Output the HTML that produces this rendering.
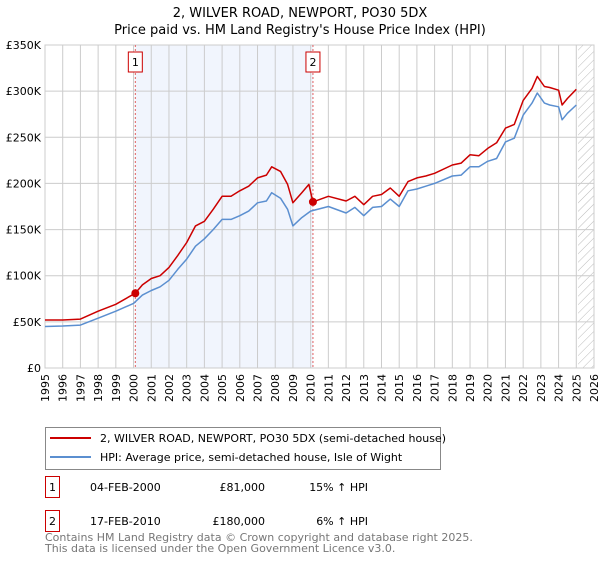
<!DOCTYPE html>
<html><head><meta charset="utf-8"><style>
body{margin:0;background:#fff;font-family:"Liberation Sans","DejaVu Sans",sans-serif;}
svg text{font-family:"DejaVu Sans","Liberation Sans",sans-serif;}
</style></head><body>
<svg id="c" width="600" height="560" xmlns="http://www.w3.org/2000/svg">
<defs><pattern id="hatch" width="6" height="6" patternUnits="userSpaceOnUse" patternTransform="rotate(45)"><line x1="0" y1="0" x2="0" y2="6" stroke="#bbb" stroke-width="1"/></pattern></defs>
<text x="300" y="17" text-anchor="middle" font-size="13">2, WILVER ROAD, NEWPORT, PO30 5DX</text>
<text x="300" y="34" text-anchor="middle" font-size="13">Price paid vs. HM Land Registry's House Price Index (HPI)</text>
<g id="plot"></g>
<g>
<rect x="45.5" y="427.5" width="395" height="42" fill="#fff" stroke="#888"/>
<line x1="50" y1="438" x2="91" y2="438" stroke="#cc0000" stroke-width="2"/>
<text x="100" y="442" font-size="11">2, WILVER ROAD, NEWPORT, PO30 5DX (semi-detached house)</text>
<line x1="50" y1="457" x2="91" y2="457" stroke="#5b8fd0" stroke-width="2"/>
<text x="100" y="461" font-size="11">HPI: Average price, semi-detached house, Isle of Wight</text>
</g>
<g font-size="11">
<rect x="45.5" y="476.5" width="14" height="21" fill="#fff" stroke="#cc0000"/><text x="52.5" y="491" text-anchor="middle">1</text>
<text x="90" y="491">04-FEB-2000</text><text x="265" y="491" text-anchor="end">£81,000</text><text x="368" y="491" text-anchor="end">15% ↑ HPI</text>
<rect x="45.5" y="510.5" width="14" height="21" fill="#fff" stroke="#cc0000"/><text x="52.5" y="525" text-anchor="middle">2</text>
<text x="90" y="525">17-FEB-2010</text><text x="265" y="525" text-anchor="end">£180,000</text><text x="368" y="525" text-anchor="end">6% ↑ HPI</text>
</g>
<text x="45" y="541" font-size="11" fill="#777">Contains HM Land Registry data © Crown copyright and database right 2025.</text>
<text x="45" y="552" font-size="11" fill="#777">This data is licensed under the Open Government Licence v3.0.</text>
</svg>
<script>
const priceYears=[1995,1996,1997,1998,1999,2000.1,2000.5,2001,2001.5,2002,2002.5,2003,2003.5,2004,2004.5,2005,2005.5,2006,2006.5,2007,2007.5,2007.8,2008.3,2008.7,2009,2009.5,2009.9,2010.13,2011,2012,2012.5,2013,2013.5,2014,2014.5,2015,2015.5,2016,2016.5,2017,2018,2018.5,2019,2019.5,2020,2020.5,2021,2021.5,2022,2022.5,2022.8,2023.2,2023.5,2024,2024.2,2024.5,2025];
const priceValues=[52,52,53,61.5,69,81,90,97,100,109,122,136,154,159,172,186,186,192,197,206,209,218,213,199,179,190,199,180,186,181,186,177,186,188,195,186,202,206,208,211,220,222,231,230,238,244,260,264,290,303,316,305,304,301,285,292,302];
const hpiYears=[1995,1996,1997,1998,1999,2000,2000.5,2001,2001.5,2002,2002.5,2003,2003.5,2004,2004.5,2005,2005.5,2006,2006.5,2007,2007.5,2007.8,2008.3,2008.7,2009,2009.5,2010,2011,2012,2012.5,2013,2013.5,2014,2014.5,2015,2015.5,2016,2016.5,2017,2018,2018.5,2019,2019.5,2020,2020.5,2021,2021.5,2022,2022.5,2022.8,2023.2,2023.5,2024,2024.2,2024.5,2025];
const hpiValues=[45,45.5,46.5,54,61.5,70,79,84,88,95,107,118,132,140,150,161,161,165,170,179,181,190,184,172,154,163,170,175,168,174,165,174,175,183,175,192,194,197,200,208,209,218,218,224,227,245,249,274,287,298,287,285,283,269,276,285];
const yTicks=[0,50,100,150,200,250,300,350];
const yTickLabels=["£0","£50K","£100K","£150K","£200K","£250K","£300K","£350K"];
const saleYears=[2000.1,2010.13];
const saleValues=[81,180];
const saleLabels=["1","2"];
const X0=45,X1=594,Y0=368,Y1=45,YMIN=1995,YMAX=2026,VMAX=350;
const xs=y=>X0+(y-YMIN)/(YMAX-YMIN)*(X1-X0);
const ys=v=>Y0-v/VMAX*(Y0-Y1);
const NS="http://www.w3.org/2000/svg";
const g=document.getElementById('plot');
function mk(t,a,p){const e=document.createElementNS(NS,t);for(const k in a)e.setAttribute(k,a[k]);(p||g).appendChild(e);return e;}
const bg=mk('rect',{x:X0,y:Y1,width:X1-X0,height:Y0-Y1,fill:'#fff'});


const sh=mk('rect',{x:xs(saleYears[0]),y:Y1,width:xs(saleYears[1])-xs(saleYears[0]),height:Y0-Y1,fill:'#eef3fc',opacity:0.8});


const ht=mk('rect',{x:xs(2025.1),y:Y1,width:X1-xs(2025.1),height:Y0-Y1,fill:'url(#hatch)'});


for(let yr=YMIN;yr<=YMAX;yr++){
 const l=mk('line',{x1:xs(yr),x2:xs(yr),y1:Y1,y2:Y0,stroke:'#ccc','stroke-width':1});
 
 
 const t=mk('text',{x:0,y:0,'font-size':11,'text-anchor':'end',transform:`translate(${xs(yr)+4},${Y0+6}) rotate(-90)`});
 t.textContent=yr;
 
 
}
yTicks.forEach((v,i)=>{
 const l=mk('line',{x1:X0,x2:X1,y1:ys(v),y2:ys(v),stroke:'#ccc','stroke-width':1});
 
 
 const t=mk('text',{x:X0-4,y:ys(v)+4,'font-size':11,'text-anchor':'end'});
 t.textContent=yTickLabels[i];
 
 
});
mk('rect',{x:X0,y:Y1,width:X1-X0,height:Y0-Y1,fill:'none',stroke:'#ccc'});
saleYears.forEach((yr,i)=>{
 const l=mk('line',{x1:xs(yr),x2:xs(yr),y1:Y1,y2:Y0,stroke:'#e06060','stroke-dasharray':'2,2','stroke-width':1});
 
 
 const r=mk('rect',{x:xs(yr)-7,y:52,width:14,height:20,fill:'#fff',stroke:'#cc0000'});
 
 
 const t=mk('text',{x:xs(yr),y:66,'font-size':11,'text-anchor':'middle'});
 t.textContent=saleLabels[i];
 
 
});
function line(xa,va,col,name){
 const d=xa.map((x,i)=>(i?'L':'M')+xs(x).toFixed(1)+','+ys(va[i]).toFixed(1)).join('');
 const p=mk('path',{d:d,fill:'none',stroke:col,'stroke-width':1.5,'stroke-linejoin':'round'});
 
 
}
line(hpiYears,hpiValues,'#5b8fd0','hpi-line');
line(priceYears,priceValues,'#cc0000','price-line');
saleYears.forEach((yr,i)=>{
 const c=mk('circle',{cx:xs(yr),cy:ys(saleValues[i]),r:4,fill:'#cc0000'});
 
 
});
</script>
</body></html>
